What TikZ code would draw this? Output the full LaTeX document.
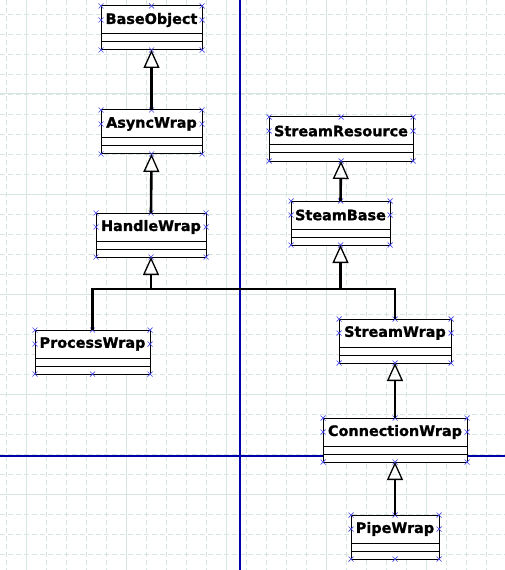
\documentclass[tikz,border=0pt]{standalone}
\usepackage{fontspec}
\newfontfamily\umlfont{DejaVu Sans Bold}[FakeBold=1.2]
\usetikzlibrary{arrows.meta,calc,shapes.misc}
\definecolor{gridc}{HTML}{D8E6E2}
\definecolor{guide}{HTML}{0000A8}
\definecolor{handlec}{HTML}{4848E8}
\tikzset{
  umlbox/.style={draw=black, line width=1bp, fill=white, inner sep=0pt, outer sep=0pt},
  umlname/.style={font=\umlfont\fontsize{14.4bp}{17bp}\selectfont, inner sep=0pt, text=black},
  sepline/.style={draw=black, line width=1bp},
  conn/.style={draw=black, line width=2.6bp},
  inh/.style={conn, -{Triangle[open, width=16bp, length=18bp, line width=1.3bp]}},
  hmark/.style={cross out, draw=handlec, line width=0.7bp, minimum size=5bp, inner sep=0pt, outer sep=0pt},
  griddash/.style={draw=gridc, line width=0.9bp, dash pattern=on 5bp off 3bp},
  gridsolid/.style={draw=gridc, line width=1bp},
  guideline/.style={draw=guide, line width=1.3bp},
}
% #1 name, #2 text, #3 x1, #4 y1, #5 x2, #6 y2
\newcommand\umlclass[6]{%
  \node[umlbox, minimum width={(#5-#3)*1bp}, minimum height={(#6-#4)*1bp}] (#1) at ({(#3+#5)/2},{(#4+#6)/2}) {};
  \node[umlname] (#1-label) at ($(#1.north)+(0,14)$) {#2};
  \draw[sepline] ($(#1.north west)+(0,28)$) -- ($(#1.north east)+(0,28)$);
  \draw[sepline] ($(#1.north west)+(0,36)$) -- ($(#1.north east)+(0,36)$);
  \foreach \a in {north west,north,north east,south west,south,south east}{\node[hmark] at (#1.\a) {};}
  \node[hmark] at ($(#1.north west)+(0,14)$) {};
  \node[hmark] at ($(#1.north east)+(0,14)$) {};
}
\begin{document}
\begin{tikzpicture}[x=1bp,y=-1bp]
\useasboundingbox (0,0) rectangle (505,570);
\fill[white] (0,0) rectangle (505,570);
% grid
\foreach \x in {6,26,...,506}{\draw[griddash] (\x,0) -- (\x,570);}
\foreach \y in {14,34,...,570}{\draw[griddash] (0,\y) -- (505,\y);}
\foreach \x in {26,126,...,426}{\draw[gridsolid] (\x,0) -- (\x,570);}
\foreach \y in {94,194,...,494}{\draw[gridsolid] (0,\y) -- (505,\y);}
% guides
\draw[guideline] (240,0) -- (240,570);
\draw[guideline] (0,456) -- (505,456);
% classes
\umlclass{BaseObject}{BaseObject}{101}{6}{202}{50}
\umlclass{AsyncWrap}{AsyncWrap}{101}{110}{202}{154}
\umlclass{HandleWrap}{HandleWrap}{96}{213}{206}{257}
\umlclass{ProcessWrap}{ProcessWrap}{35}{330}{150}{374}
\umlclass{StreamResource}{StreamResource}{269}{117}{413}{161}
\umlclass{SteamBase}{SteamBase}{291}{201}{390}{245}
\umlclass{StreamWrap}{StreamWrap}{339}{319}{451}{363}
\umlclass{ConnectionWrap}{ConnectionWrap}{323}{418}{467}{462}
\umlclass{PipeWrap}{PipeWrap}{351}{515}{439}{559}
% connectors
\coordinate (bus) at (0,289);
\draw[inh] (AsyncWrap.north) -- (BaseObject.south);
\draw[inh] (HandleWrap.north) -- (AsyncWrap.south);
\draw[inh] (SteamBase.north) -- (StreamResource.south);
\draw[conn] (ProcessWrap.north) |- (bus -| StreamWrap.north) -- (StreamWrap.north);
\draw[inh] (HandleWrap.south |- bus) -- (HandleWrap.south);
\draw[inh] (SteamBase.south |- bus) -- (SteamBase.south);
\draw[inh] (ConnectionWrap.north) -- (StreamWrap.south);
\draw[inh] (PipeWrap.north) -- (ConnectionWrap.south);
\end{tikzpicture}
\end{document}
